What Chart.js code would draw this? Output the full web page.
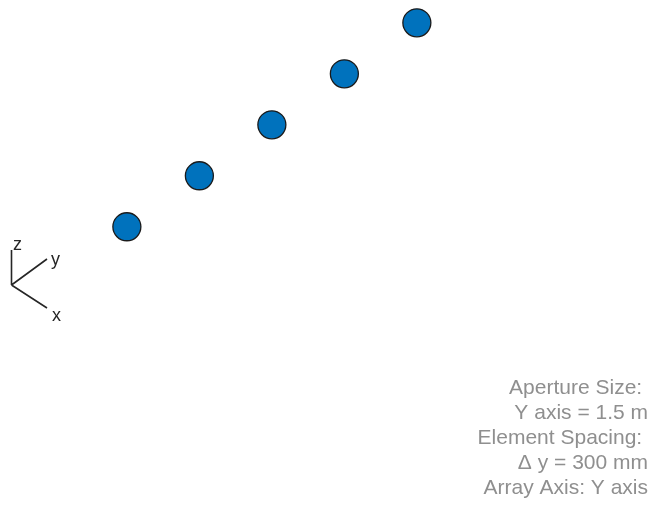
<!DOCTYPE html>
<html>
<head>
<meta charset="utf-8">
<script src="https://cdn.jsdelivr.net/npm/chart.js@4/dist/chart.umd.min.js"></script>
<style>
html,body{margin:0;padding:0;background:#fff;}
#wrap{width:652px;height:511px;position:relative;}
</style>
</head>
<body>
<div id="wrap"><canvas id="c" width="652" height="511"></canvas></div>
<script>
// Element positions along the array axis (Y), metres
const elementPositions = [-0.6, -0.3, 0, 0.3, 0.6];
// Annotation text lines
const infoLines = ["Aperture Size: ", "Y axis = 1.5 m", "Element Spacing: ", "\u0394 y = 300 mm", "Array Axis: Y axis"];
const triadLabels = ["z", "y", "x"];

const points = elementPositions.map(p => ({x: p, y: p}));

const decorPlugin = {
  id: 'decor',
  afterDraw(chart) {
    const ctx = chart.ctx;
    ctx.save();
    // axis triad
    ctx.strokeStyle = '#262626';
    ctx.lineWidth = 1.6;
    ctx.beginPath();
    ctx.moveTo(11.5, 250); ctx.lineTo(11.5, 285);
    ctx.moveTo(11.5, 285); ctx.lineTo(47, 259);
    ctx.moveTo(11.5, 285); ctx.lineTo(47, 308);
    ctx.stroke();
    ctx.fillStyle = '#262626';
    ctx.font = '18px "Liberation Sans", Arial, sans-serif';
    ctx.textAlign = 'left';
    ctx.textBaseline = 'alphabetic';
    ctx.fillText(triadLabels[0], 13, 250);
    ctx.fillText(triadLabels[1], 51, 265);
    ctx.fillText(triadLabels[2], 52, 321);
    // info text
    ctx.fillStyle = '#8f8f8f';
    ctx.font = '21px "Liberation Sans", Arial, sans-serif';
    ctx.textAlign = 'right';
    const base = 394, step = 25;
    infoLines.forEach((t, i) => ctx.fillText(t, 648, base + i * step));
    ctx.restore();
  }
};

new Chart(document.getElementById('c'), {
  type: 'scatter',
  data: {
    datasets: [{
      data: points,
      backgroundColor: '#0072BD',
      borderColor: '#1a1a1a',
      borderWidth: 1.3,
      pointRadius: 14,
      pointHoverRadius: 14,
      clip: false
    }]
  },
  options: {
    responsive: false,
    animation: false,
    events: [],
    layout: {padding: 0, autoPadding: false},
    plugins: {legend: {display: false}, tooltip: {enabled: false}},
    scales: {
      x: {type: 'linear', display: false, min: -1.125, max: 1.573},
      y: {type: 'linear', display: false, min: -2.272, max: 0.734}
    }
  },
  plugins: [decorPlugin]
});
</script>
</body>
</html>
